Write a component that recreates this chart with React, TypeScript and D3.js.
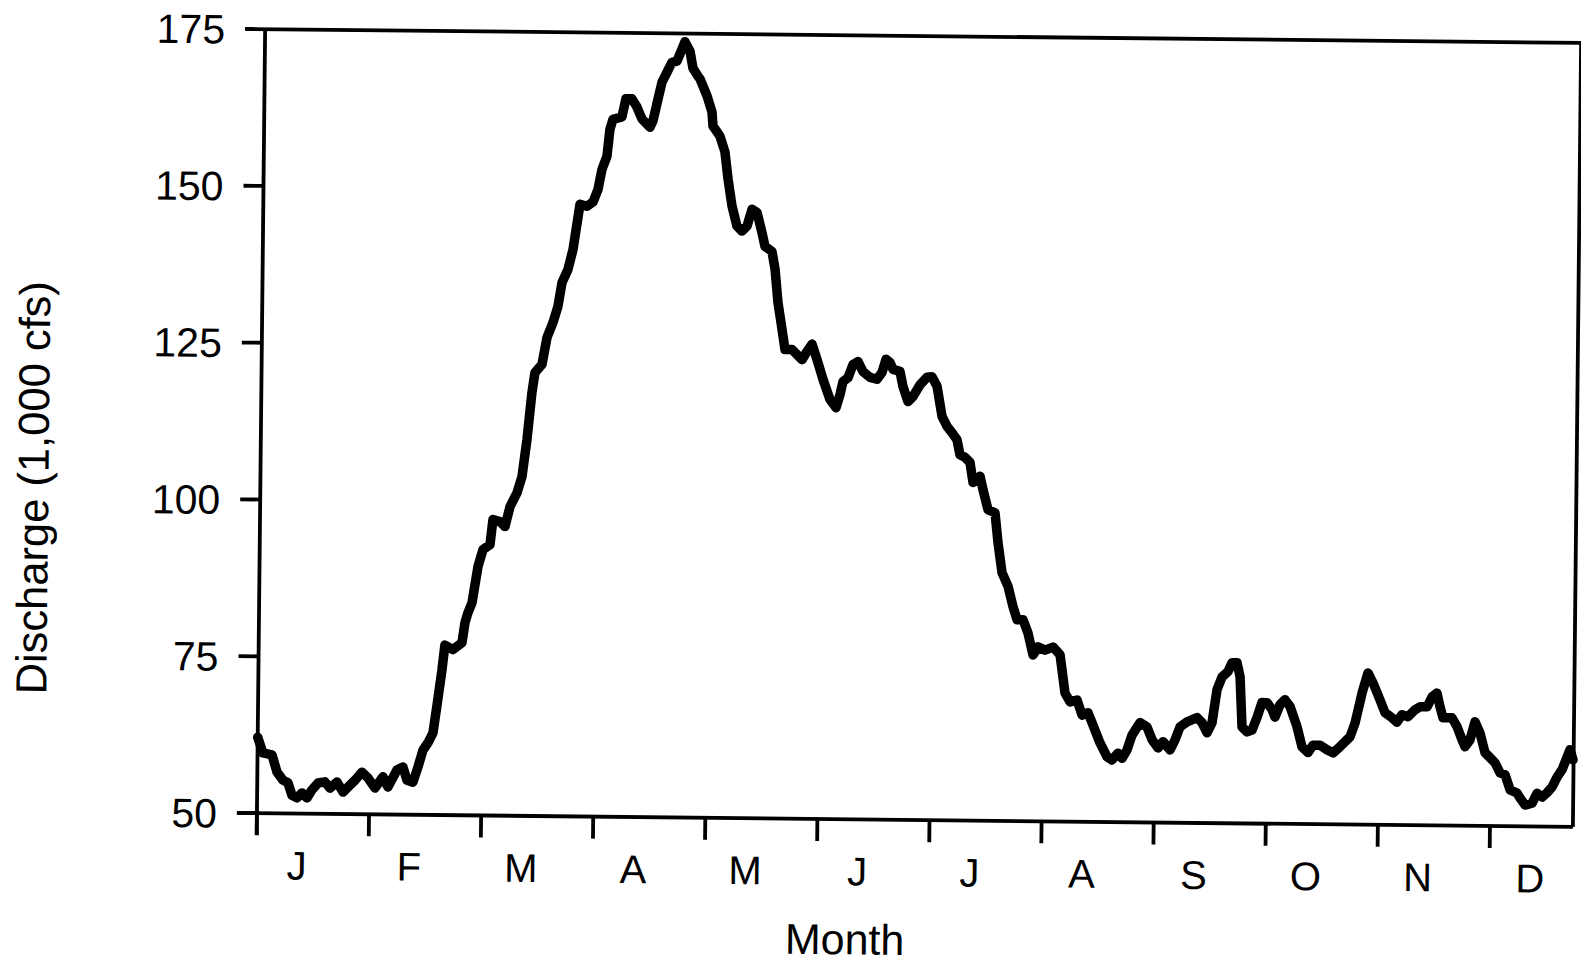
import React from "react";
import * as d3 from "d3";

// Month labels along the x axis (ticks at month starts)
const monthLabels = ["J", "F", "M", "A", "M", "J", "J", "A", "S", "O", "N", "D"];
// Y axis ticks, discharge in 1,000 cfs
const yTicks = [50, 75, 100, 125, 150, 175];

// Position in months since Jan 1 (0 = start of January)
const monthPos = [
  0.0, 0.048, 0.129, 0.175, 0.229, 0.274, 0.311, 0.356, 0.4, 0.445, 0.489, 0.542, 0.604, 0.649, 0.711,
  0.766, 0.827, 0.872, 0.933, 0.987, 1.051, 1.121, 1.166, 1.245, 1.298, 1.335, 1.389, 1.432, 1.475,
  1.519, 1.563, 1.597, 1.637, 1.661, 1.734, 1.813, 1.838, 1.864, 1.899, 1.949, 1.992, 2.054, 2.078,
  2.141, 2.186, 2.229, 2.29, 2.333, 2.374, 2.414, 2.439, 2.501, 2.543, 2.595, 2.638, 2.672, 2.724,
  2.767, 2.825, 2.888, 2.941, 2.984, 3.018, 3.061, 3.085, 3.111, 3.191, 3.225, 3.279, 3.324, 3.37,
  3.442, 3.468, 3.511, 3.545, 3.589, 3.632, 3.677, 3.72, 3.746, 3.792, 3.82, 3.866, 3.884, 3.948,
  3.994, 4.004, 4.067, 4.113, 4.143, 4.181, 4.227, 4.272, 4.317, 4.36, 4.405, 4.451, 4.479, 4.542,
  4.571, 4.6, 4.639, 4.667, 4.73, 4.775, 4.82, 4.863, 4.908, 4.953, 5.009, 5.073, 5.128, 5.162, 5.188,
  5.232, 5.275, 5.32, 5.365, 5.428, 5.49, 5.535, 5.569, 5.605, 5.633, 5.695, 5.723, 5.769, 5.813,
  5.875, 5.937, 5.981, 6.027, 6.074, 6.12, 6.165, 6.21, 6.238, 6.283, 6.328, 6.357, 6.419, 6.446,
  6.493, 6.556, 6.585, 6.624, 6.679, 6.725, 6.762, 6.816, 6.861, 6.908, 6.952, 7.015, 7.086, 7.149,
  7.197, 7.243, 7.305, 7.351, 7.404, 7.441, 7.514, 7.578, 7.622, 7.675, 7.712, 7.755, 7.799, 7.869,
  7.932, 7.978, 8.032, 8.076, 8.139, 8.183, 8.226, 8.288, 8.377, 8.422, 8.467, 8.511, 8.553, 8.596,
  8.649, 8.684, 8.729, 8.757, 8.779, 8.824, 8.869, 8.912, 8.955, 9.0, 9.045, 9.072, 9.116, 9.16,
  9.206, 9.27, 9.316, 9.37, 9.414, 9.477, 9.539, 9.594, 9.655, 9.744, 9.787, 9.847, 9.898, 9.944,
  10.008, 10.053, 10.116, 10.161, 10.205, 10.259, 10.32, 10.366, 10.428, 10.472, 10.515, 10.544,
  10.571, 10.651, 10.697, 10.743, 10.77, 10.814, 10.857, 10.903, 10.949, 10.994, 11.039, 11.085,
  11.13, 11.176, 11.238, 11.266, 11.311, 11.373, 11.417, 11.462, 11.506, 11.55, 11.594, 11.638,
  11.707, 11.735,
];

// Discharge (1,000 cfs)
const discharge = [
  62.1, 59.6, 59.3, 56.6, 55.3, 54.9, 52.9, 52.5, 53.3, 52.5, 53.8, 54.9, 55.1, 54.1, 55.1,
  53.5, 54.6, 55.4, 56.7, 55.8, 54.2, 56.0, 54.4, 57.1, 57.6, 55.5, 55.2, 57.6, 60.3,
  61.5, 63.1, 67.6, 73.1, 77.1, 76.4, 77.5, 80.7, 82.3, 83.9, 89.7, 92.4, 93.2, 97.2,
  96.9, 96.1, 99.3, 101.5, 104.1, 110.0, 117.5, 120.7, 122.0, 126.3, 128.7, 131.3, 135.1, 137.2,
  140.4, 147.6, 147.3, 148.0, 150.0, 153.2, 155.3, 159.6, 161.2, 161.6, 164.5, 164.5, 163.2, 161.3,
  160.0, 161.0, 164.5, 167.2, 168.8, 170.4, 170.6, 172.5, 173.7, 172.2, 169.5, 168.2, 167.8, 165.1,
  162.5, 160.3, 158.7, 156.2, 151.9, 147.6, 144.4, 143.6, 144.4, 147.1, 146.6, 143.4, 141.2, 140.4,
  137.6, 132.3, 128.0, 124.8, 124.8, 124.0, 123.2, 124.5, 125.7, 123.3, 120.1, 116.9, 115.6, 117.7, 119.8,
  120.4, 122.5, 123.0, 121.4, 120.5, 120.2, 121.3, 123.4, 122.9, 121.8, 121.5, 119.1, 116.7, 117.5,
  119.4, 120.6, 120.7, 119.2, 114.4, 112.8, 111.8, 110.7, 108.3, 107.9, 107.1, 103.9, 104.9, 102.8,
  99.6, 99.1, 94.4, 89.6, 87.4, 84.2, 82.1, 82.1, 80.0, 76.5, 77.8, 77.3, 77.8, 76.6,
  70.5, 69.1, 69.4, 67.0, 67.4, 65.8, 62.6, 60.4, 59.9, 61.0, 60.2, 61.5, 63.9, 65.9,
  65.2, 63.2, 61.9, 62.9, 61.6, 63.2, 65.3, 66.1, 66.8, 66.0, 64.4, 66.0, 71.3, 73.3,
  74.2, 75.6, 75.6, 73.4, 65.4, 64.6, 64.9, 66.9, 69.3, 69.3, 68.2, 67.0, 69.0, 69.8,
  68.7, 65.5, 62.3, 61.4, 62.6, 62.6, 61.9, 61.4, 62.4, 64.0, 66.2, 71.0, 74.2, 72.6,
  69.9, 67.9, 67.1, 66.4, 67.6, 67.3, 68.4, 68.9, 68.9, 70.5, 71.1, 68.9,
  67.2, 67.2, 65.8, 63.7, 62.6, 63.7, 66.6, 64.8, 61.7, 60.9, 60.1, 58.5,
  58.2, 55.8, 55.3, 54.5, 53.4, 53.7, 55.3, 54.7, 55.4, 56.3, 57.9, 59.1,
  62.3, 60.7,
];

const X_END = 11.74; // right edge of the plot, in months

export default function App() {
  const W = 1581;
  const H = 965;
  const x = d3.scaleLinear().domain([0, 12]).range([261, 261 + 112.1 * 12]);
  const y = d3.scaleLinear().domain([50, 175]).range([820, 36]);

  const pts = monthPos.map((m, i) => [m, discharge[i]] as [number, number]);
  const line = d3
    .line<[number, number]>()
    .x((d) => x(d[0]))
    .y((d) => y(d[1]));

  const font = "'Liberation Sans', Arial, Helvetica, sans-serif";
  const x0 = x(0);
  const x1 = x(X_END);
  const yTop = y(175);
  const yBot = y(50);
  const tickLen = 20;
  const monthTicks = d3.range(0, 12);

  return (
    <svg
      width={W}
      height={H}
      style={{ position: "absolute", left: 0, top: 0, background: "#fff" }}
    >
      <rect x={0} y={0} width={W} height={H} fill="#fff" />
      <g transform="rotate(0.6, 917, 427)">
        {/* frame */}
        <line x1={x0 - tickLen} x2={x1} y1={yTop} y2={yTop} stroke="#000" strokeWidth={3.8} />
        <line x1={x0 - tickLen} x2={x1} y1={yBot} y2={yBot} stroke="#000" strokeWidth={3.8} />
        <line x1={x0} x2={x0} y1={yTop} y2={yBot + 22} stroke="#000" strokeWidth={3.8} />
        <line x1={x1} x2={x1} y1={yTop} y2={yBot} stroke="#000" strokeWidth={3.8} />

        {/* y ticks */}
        {yTicks.map((t) => (
          <g key={t}>
            <line x1={x0 - tickLen} x2={x0} y1={y(t)} y2={y(t)} stroke="#000" strokeWidth={3.8} />
            <text
              x={221}
              y={y(t)}
              dy="0.36em"
              textAnchor="end"
              fontFamily={font}
              fontSize={41}
              fill="#000"
            >
              {t}
            </text>
          </g>
        ))}

        {/* x ticks and month labels */}
        {monthTicks.map((m) => (
          <g key={m}>
            <line x1={x(m)} x2={x(m)} y1={yBot} y2={yBot + 22} stroke="#000" strokeWidth={3.8} />
            <text
              x={x(m + 0.36)}
              y={886}
              textAnchor="middle"
              fontFamily={font}
              fontSize={40}
              fill="#000"
            >
              {monthLabels[m]}
            </text>
          </g>
        ))}

        {/* data line */}
        <path
          d={line(pts) || ""}
          fill="none"
          stroke="#000"
          strokeWidth={9.5}
          strokeLinejoin="round"
          strokeLinecap="round"
        />

        {/* axis titles */}
        <text
          x={850}
          y={955}
          textAnchor="middle"
          fontFamily={font}
          fontSize={43}
          fill="#000"
        >
          Month
        </text>
        <text
          transform="translate(49, 497) rotate(-90)"
          textAnchor="middle"
          fontFamily={font}
          fontSize={43.5}
          fill="#000"
        >
          Discharge (1,000 cfs)
        </text>
      </g>
    </svg>
  );
}
